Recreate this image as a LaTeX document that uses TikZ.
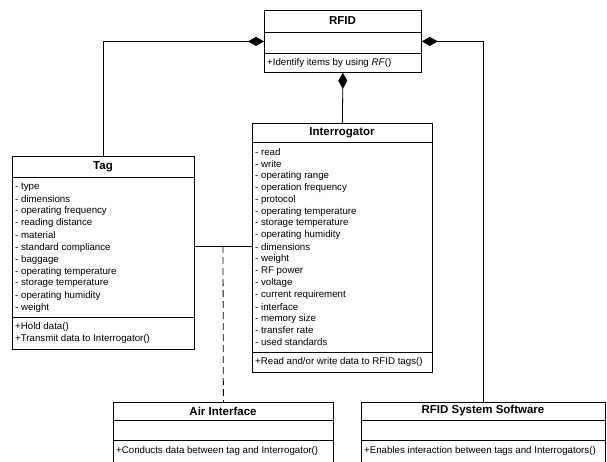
\documentclass[tikz,border=0pt]{standalone}
\usepackage{fontspec}
\setmainfont{Liberation Sans}
\usetikzlibrary{arrows.meta}
\tikzset{
  box/.style={draw=black, line width=0.8pt, rectangle, inner sep=0pt, anchor=north west},
  sep/.style={draw=black, line width=0.8pt},
  attr/.style={anchor=west, inner sep=0pt, font=\fontsize{9.7}{12}\selectfont},
  ctitle/.style={inner sep=0pt, font=\fontsize{11.5}{14}\selectfont\bfseries},
  comp/.style={draw=black, line width=0.8pt, -{Diamond[length=16pt,width=9pt]}},
  link/.style={draw=black, line width=0.8pt},
  dlink/.style={draw=black, line width=0.8pt, dash pattern=on 7pt off 4pt}
}
\begin{document}
\begin{tikzpicture}[x=1pt,y=-1pt]
\useasboundingbox (0,0) rectangle (607,461);
\clip (0,0) rectangle (607,461);
\fill[white] (0,0) rectangle (607,461);

% class boxes
\node[box, minimum width=157pt, minimum height=62pt] (rfid) at (264,10) {};
\node[box, minimum width=180pt, minimum height=249pt] (int) at (252,123) {};
\node[box, minimum width=182pt, minimum height=193pt] (tag) at (12,156) {};
\node[box, minimum width=220pt, minimum height=70pt] (air) at (113,402) {};
\node[box, minimum width=244pt, minimum height=70pt] (soft) at (361,402) {};

% compartment separators
\draw[sep] (264,32) -- (421,32);
\draw[sep] (264,53) -- (421,53);
\draw[sep] (252,142) -- (432,142);
\draw[sep] (252,352) -- (432,352);
\draw[sep] (12,177) -- (194,177);
\draw[sep] (12,317) -- (194,317);
\draw[sep] (113,420) -- (333,420);
\draw[sep] (113,440) -- (333,440);
\draw[sep] (361,420) -- (605,420);
\draw[sep] (361,440) -- (605,440);

% titles
\node[ctitle] (trfid) at (342.5,21) {RFID};
\node[ctitle] (tint) at (342,132.5) {Interrogator};
\node[ctitle] (ttag) at (103,166.5) {Tag};
\node[ctitle] (tair) at (223,411) {Air Interface};
\node[ctitle] (tsoft) at (483,411) {RFID System Software};

% RFID method
\node[attr] (mrfid) at (267,62.5) {+Identify items by using \textit{RF}()};

% Tag attributes
\foreach \t [count=\i] in {type, dimensions, operating frequency, reading distance, material, standard compliance, baggage, operating temperature, storage temperature, operating humidity, weight}
  \node[attr] (ta\i) at (15,{187+12.1*(\i-1)}) {- \t};
\node[attr] (tm1) at (15,327) {+Hold data()};
\node[attr] (tm2) at (15,339) {+Transmit data to Interrogator()};

% Interrogator attributes
\foreach \t [count=\i] in {read, write, operating range, operation frequency, protocol, operating temperature, storage temperature, operating humidity, dimensions, weight, RF power, voltage, current requirement, interface, memory size, transfer rate, used standards}
  \node[attr] (ia\i) at (255,{152+11.9*(\i-1)}) {- \t};
\node[attr] (im1) at (255,362) {+Read and/or write data to RFID tags()};

% other methods
\node[attr] (am1) at (116,451) {+Conducts data between tag and Interrogator()};
\node[attr] (sm1) at (364,451) {+Enables interaction between tags and Interrogators()};

% connectors
\draw[comp] (tag.north) |- (rfid.west);
\draw[comp] (soft.north) |- (rfid.east);
\draw[comp] (int.north) -- (rfid.south);
\coordinate (assoc) at (223,246);
\draw[link] (tag.east |- assoc) -- (int.west |- assoc);
\draw[dlink] (assoc) -- (air.north);
\end{tikzpicture}
\end{document}
